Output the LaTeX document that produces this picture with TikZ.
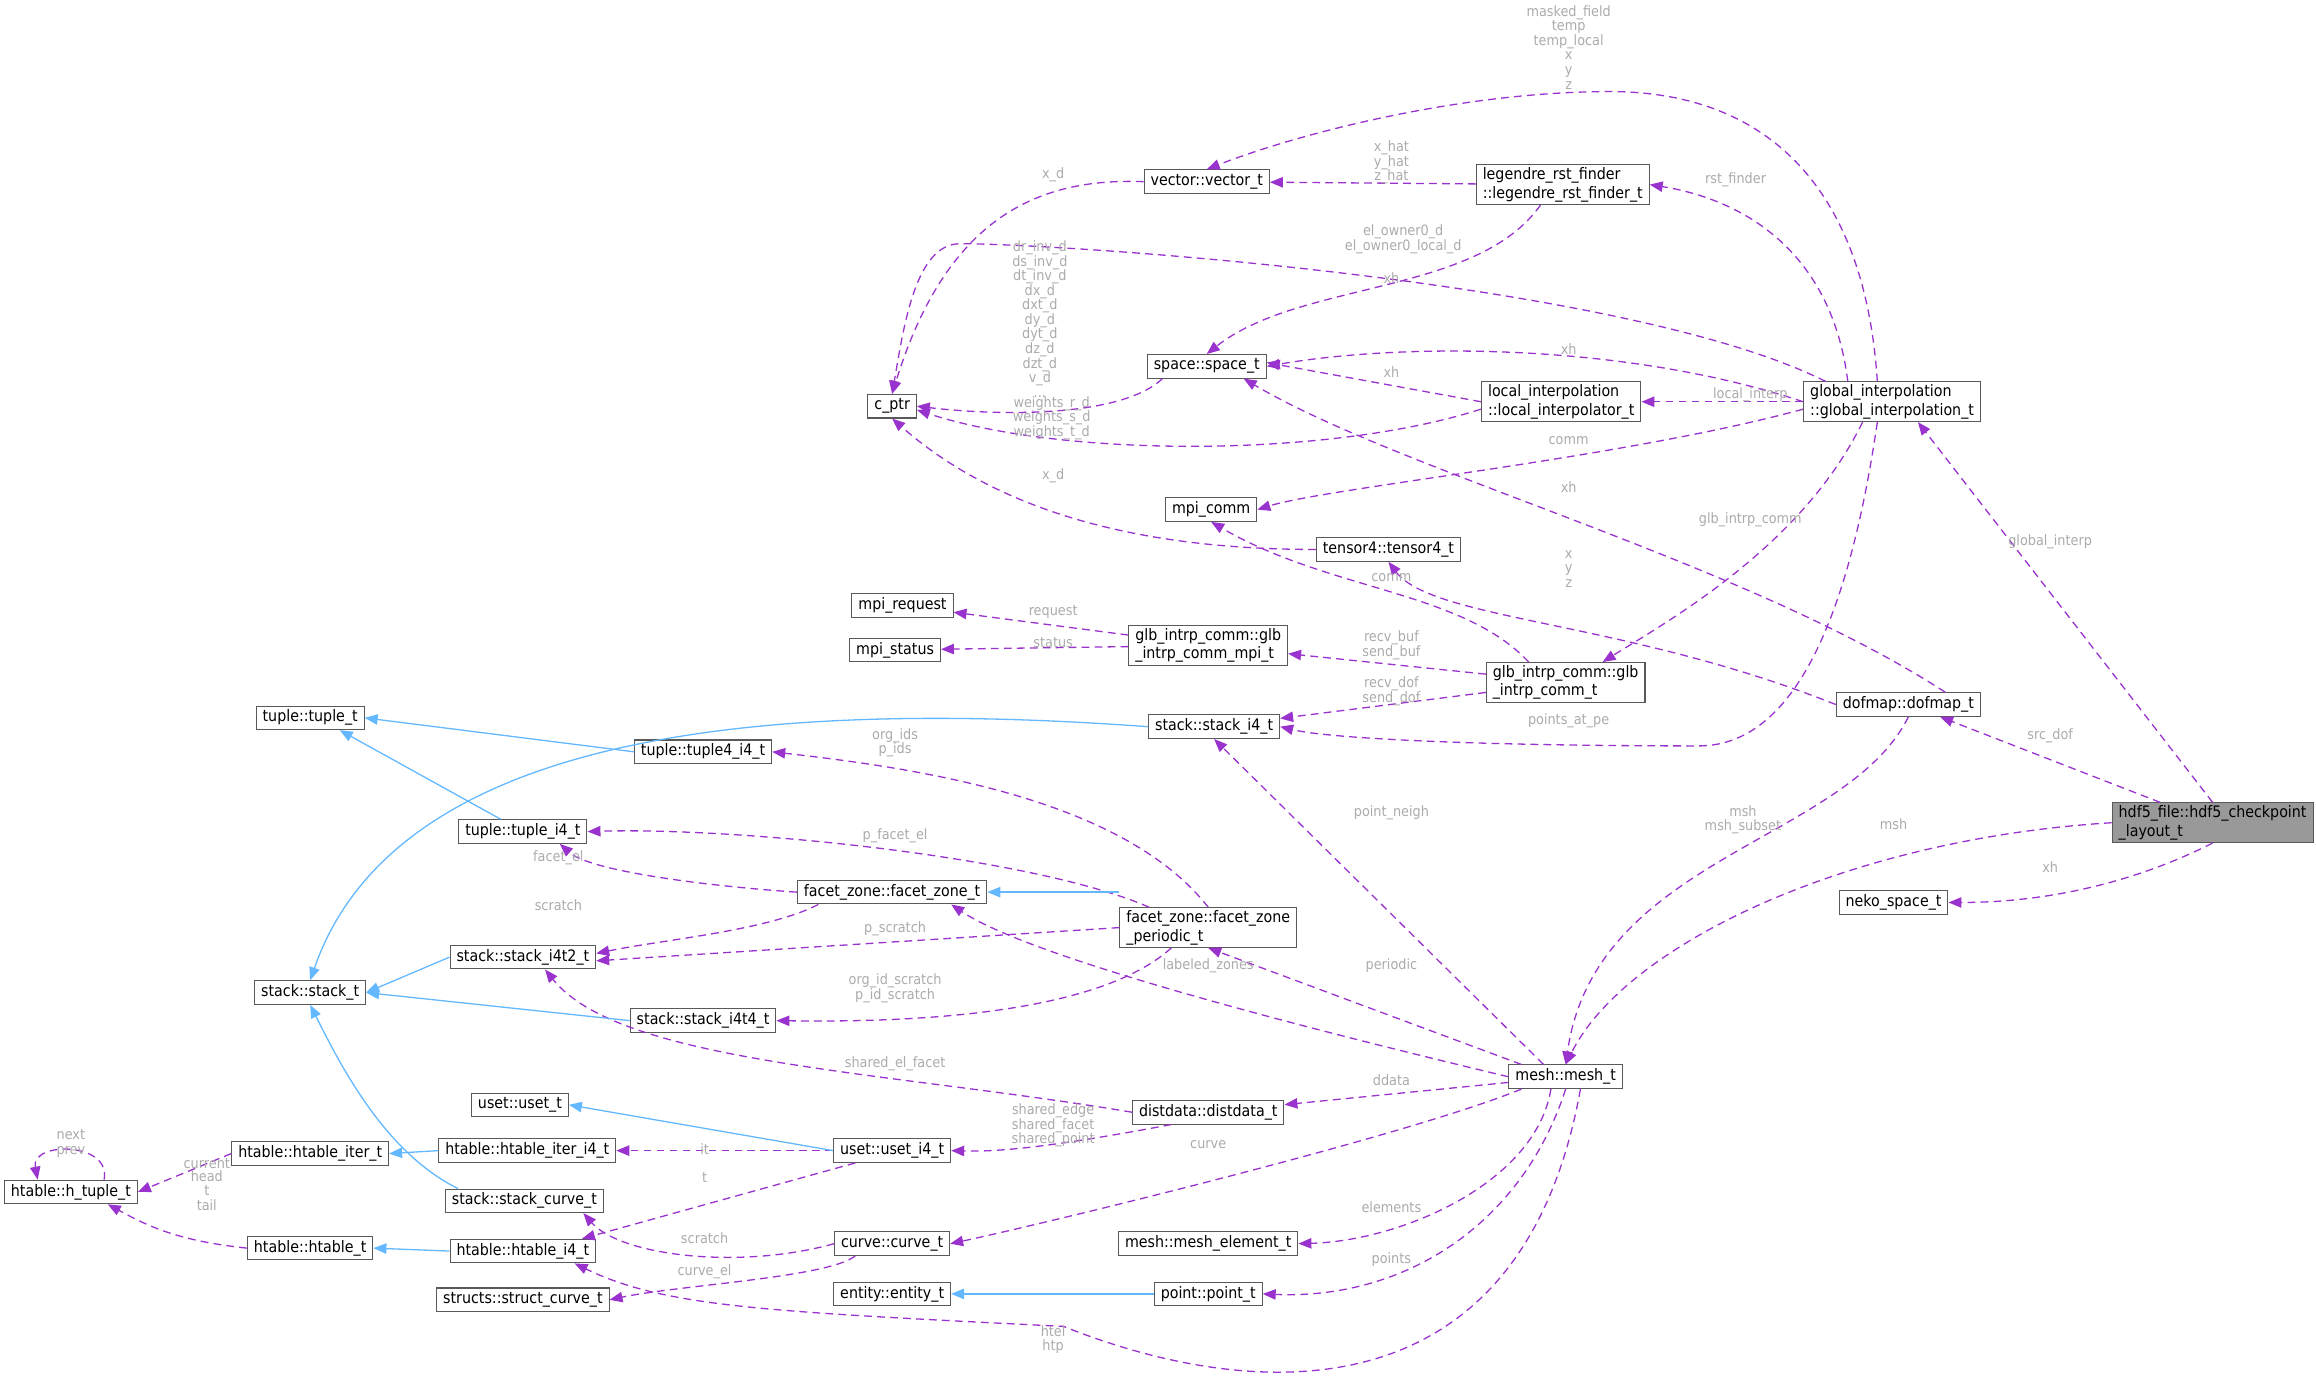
\documentclass[tikz,border=0pt]{standalone}
\usepackage{fontspec}
\setmainfont{DejaVu Sans Condensed}
\usetikzlibrary{arrows.meta}
\definecolor{dep}{HTML}{9A32CD}
\definecolor{inh}{HTML}{63B8FF}
\definecolor{lblc}{HTML}{ABABAB}
\begin{document}
\begin{tikzpicture}[x=0.02cm,y=-0.02cm,
 box/.style={draw=black!65,fill=white,font=\fontsize{6.1}{7.2}\selectfont,inner xsep=2.5pt,inner ysep=1pt,minimum height=0.32cm,align=left},
 dep/.style={draw=dep,dashed,dash pattern=on 3pt off 2pt,line width=0.5pt,-{Triangle[length=5pt,width=4pt]}},
 inh/.style={draw=inh,line width=0.5pt,-{Triangle[length=5pt,width=4pt]}},
 lbl/.style={text=lblc,font=\fontsize{5.5}{5.6}\selectfont,align=center,inner sep=0pt}]
\useasboundingbox (0,0) rectangle (1568,946);
% nodes
\node[box,fill=black!40] (hdf5) at (1498,557) {hdf5\_file::hdf5\_checkpoint\\\_layout\_t};
\node[box] (neko) at (1282,611) {neko\_space\_t};
\node[box] (dofmap) at (1292,477) {dofmap::dofmap\_t};
\node[box] (global) at (1281,272) {global\_interpolation\\::global\_interpolation\_t};
\node[box] (legendre) at (1058,125) {legendre\_rst\_finder\\::legendre\_rst\_finder\_t};
\node[box] (vector) at (817,123) {vector::vector\_t};
\node[box] (space) at (817,248) {space::space\_t};
\node[box] (local) at (1057,272) {local\_interpolation\\::local\_interpolator\_t};
\node[box] (cptr) at (604,275) {c\_ptr};
\node[box] (mpicomm) at (820,345) {mpi\_comm};
\node[box] (tensor) at (940,372) {tensor4::tensor4\_t};
\node[box] (mpireq) at (611,410) {mpi\_request};
\node[box] (mpistat) at (606,440) {mpi\_status};
\node[box] (glbmpi) at (818,437) {glb\_intrp\_comm::glb\\\_intrp\_comm\_mpi\_t};
\node[box] (glb) at (1060,462) {glb\_intrp\_comm::glb\\\_intrp\_comm\_t};
\node[box] (stacki4) at (822,492) {stack::stack\_i4\_t};
\node[box] (tuple) at (210,486) {tuple::tuple\_t};
\node[box] (tuple4) at (476,509) {tuple::tuple4\_i4\_t};
\node[box] (tuplei4) at (354,563) {tuple::tuple\_i4\_t};
\node[box] (fzone) at (604,604) {facet\_zone::facet\_zone\_t};
\node[box] (fper) at (818,628) {facet\_zone::facet\_zone\\\_periodic\_t};
\node[box] (si4t2) at (354,648) {stack::stack\_i4t2\_t};
\node[box] (stack) at (210,672) {stack::stack\_t};
\node[box] (si4t4) at (476,691) {stack::stack\_i4t4\_t};
\node[box] (mesh) at (1060,729) {mesh::mesh\_t};
\node[box] (dist) at (818,753) {distdata::distdata\_t};
\node[box] (uset) at (352,748) {uset::uset\_t};
\node[box] (hiter) at (210,781) {htable::htable\_iter\_t};
\node[box] (hiteri4) at (357,779) {htable::htable\_iter\_i4\_t};
\node[box] (useti4) at (604,779) {uset::uset\_i4\_t};
\node[box] (htuple) at (48,807) {htable::h\_tuple\_t};
\node[box] (scurve) at (355,813) {stack::stack\_curve\_t};
\node[box] (htable) at (210,845) {htable::htable\_t};
\node[box] (htablei4) at (354,847) {htable::htable\_i4\_t};
\node[box] (curve) at (604,842) {curve::curve\_t};
\node[box] (scurvet) at (354,880) {structs::struct\_curve\_t};
\node[box] (melem) at (818,842) {mesh::mesh\_element\_t};
\node[box] (entity) at (604,876) {entity::entity\_t};
\node[box] (point) at (818,876) {point::point\_t};
% coordinates for curve waypoints
\coordinate (w1) at (1090,62);
\coordinate (w2) at (650,165);
\coordinate (w3) at (1150,505);
\coordinate (w4) at (720,898);
% dependency edges
\draw[dep] (hdf5.north) -- ([xshift=0.35cm]global.south);
\draw[dep] (hdf5) -- (dofmap);
\draw[dep] (hdf5.west) .. controls (1250,568) and (1100,640) .. (mesh.north);
\draw[dep] (hdf5.south) .. controls (1440,600) and (1380,611) .. (neko.east);
\draw[dep] ([xshift=-0.2cm]global.north) .. controls (1262,120) and (1190,62) .. (w1) .. controls (990,62) and (880,90) .. (vector.north);
\draw[dep] ([xshift=-0.6cm]global.north) .. controls (1240,170) and (1180,135) .. (legendre.east);
\draw[dep] ([xshift=-0.9cm]global.north) .. controls (1100,190) and (720,165) .. (w2) .. controls (620,165) and (612,220) .. (cptr.north);
\draw[dep] (global.west) .. controls (1100,232) and (950,232) .. (space.east);
\draw[dep] (global) -- (local);
\draw[dep] ([yshift=-0.1cm]global.west) .. controls (1100,310) and (900,330) .. (mpicomm.east);
\draw[dep] ([xshift=-0.4cm]global.south) .. controls (1220,370) and (1130,420) .. ([xshift=0.5cm]glb.north);
\draw[dep] ([xshift=-0.2cm]global.south) .. controls (1250,430) and (1210,505) .. (w3) .. controls (1000,505) and (900,500) .. (stacki4.east);
\draw[dep] (legendre) -- (vector);
\draw[dep] ([xshift=-0.3cm]legendre.south) .. controls (1000,200) and (880,190) .. (space.north);
\draw[dep] (vector.west) .. controls (700,120) and (640,150) .. (cptr.north);
\draw[dep] ([xshift=-0.6cm]space.south) .. controls (760,282) and (680,282) .. (cptr.east);
\draw[dep] ([yshift=-0.1cm]local.west) .. controls (900,310) and (720,310) .. ([yshift=-0.05cm]cptr.east);
\draw[dep] (local.west) -- ([yshift=0.05cm]space.east);
\draw[dep] (tensor.west) .. controls (780,372) and (680,350) .. (cptr.south);
\draw[dep] ([xshift=0.5cm]dofmap.north) .. controls (1180,380) and (950,320) .. ([xshift=0.5cm]space.south);
\draw[dep] (dofmap.west) .. controls (1100,420) and (970,420) .. (tensor.south);
\draw[dep] (dofmap.south) .. controls (1250,570) and (1080,580) .. (mesh.north);
\draw[dep] ([xshift=-0.5cm]glb.north) .. controls (990,400) and (900,400) .. (mpicomm.south);
\draw[dep] (glb) -- (glbmpi);
\draw[dep] (glb) -- (stacki4);
\draw[dep] (glbmpi) -- (mpireq);
\draw[dep] (glbmpi) -- (mpistat);
\draw[dep] (fper.north) .. controls (760,540) and (620,520) .. (tuple4.east);
\draw[dep] ([xshift=-0.8cm]fper.north) .. controls (700,580) and (500,560) .. (tuplei4.east);
\draw[dep] (fper.west) -- ([yshift=-0.05cm]si4t2.east);
\draw[dep] ([xshift=-0.5cm]fper.south) .. controls (740,690) and (600,692) .. (si4t4.east);
\draw[dep] (fzone.west) .. controls (480,600) and (400,590) .. ([xshift=0.5cm]tuplei4.south);
\draw[dep] ([xshift=-1cm]fzone.south) .. controls (520,630) and (450,636) .. ([yshift=0.05cm]si4t2.east);
\draw[dep] ([xshift=-0.3cm]mesh.north) -- (stacki4.south);
\draw[dep] (mesh.west) .. controls (900,700) and (700,650) .. ([xshift=0.8cm]fzone.south);
\draw[dep] ([xshift=-0.6cm]mesh.north) -- (fper.south);
\draw[dep] (mesh) -- (dist);
\draw[dep] ([xshift=-0.6cm]mesh.south) .. controls (950,770) and (700,830) .. (curve.east);
\draw[dep] ([xshift=-0.2cm]mesh.south) .. controls (1040,800) and (950,840) .. (melem.east);
\draw[dep] (mesh.south) .. controls (1030,830) and (950,880) .. (point.east);
\draw[dep] ([xshift=0.2cm]mesh.south) .. controls (1030,960) and (850,950) .. (w4) .. controls (520,888) and (450,885) .. ([xshift=0.7cm]htablei4.south);
\draw[dep] (dist.west) .. controls (600,725) and (420,720) .. ([xshift=0.3cm]si4t2.south);
\draw[dep] ([xshift=-0.5cm]dist.south) .. controls (720,775) and (680,780) .. (useti4.east);
\draw[dep] (useti4) -- (hiteri4);
\draw[dep] ([xshift=-0.5cm]useti4.south) -- ([xshift=0.8cm]htablei4.north);
\draw[dep] (curve.west) .. controls (500,860) and (420,850) .. ([xshift=0.8cm]scurve.south);
\draw[dep] ([xshift=-0.5cm]curve.south) .. controls (560,865) and (460,870) .. (scurvet.east);
\draw[dep] (hiter.west) -- (htuple.east);
\draw[dep] (htable.west) .. controls (120,840) and (100,830) .. ([xshift=0.5cm]htuple.south);
\draw[dep] ([xshift=0.45cm]htuple.north) .. controls +(5,-26) and +(-5,-26) .. ([xshift=-0.45cm]htuple.north);
% inheritance edges
\draw[inh] (stacki4.west) .. controls (450,468) and (260,520) .. (stack.north);
\draw[inh] (tuple4.west) -- (tuple.east);
\draw[inh] ([xshift=-0.3cm]tuplei4.north) -- ([xshift=0.4cm]tuple.south);
\draw[inh] (si4t2.west) -- (stack.east);
\draw[inh] (si4t4.west) -- (stack.east);
\draw[inh] ([xshift=-0.9cm]scurve.north) .. controls (260,780) and (230,720) .. (stack.south);
\draw[inh] (fper.west |- fzone.east) -- (fzone.east);
\draw[inh] (useti4.west) -- (uset.east);
\draw[inh] (hiteri4.west) -- (hiter.east);
\draw[inh] (htablei4.west) -- (htable.east);
\draw[inh] (point.west) -- (entity.east);
% labels
\node[lbl] at (1062,32) {masked\_field\\temp\\temp\_local\\x\\y\\z};
\node[lbl] at (713,118) {x\_d};
\node[lbl] at (942,110) {x\_hat\\y\_hat\\z\_hat};
\node[lbl] at (1175,122) {rst\_finder};
\node[lbl] at (950,162) {el\_owner0\_d\\el\_owner0\_local\_d};
\node[lbl] at (942,188) {xh};
\node[lbl] at (704,216) {dr\_inv\_d\\ds\_inv\_d\\dt\_inv\_d\\dx\_d\\dxt\_d\\dy\_d\\dyt\_d\\dz\_d\\dzt\_d\\v\_d\\...};
\node[lbl] at (1062,236) {xh};
\node[lbl] at (942,252) {xh};
\node[lbl] at (1185,267) {local\_interp};
\node[lbl] at (712,283) {weights\_r\_d\\weights\_s\_d\\weights\_t\_d};
\node[lbl] at (1062,298) {comm};
\node[lbl] at (1062,330) {xh};
\node[lbl] at (713,322) {x\_d};
\node[lbl] at (1185,352) {glb\_intrp\_comm};
\node[lbl] at (1062,385) {x\\y\\z};
\node[lbl] at (942,391) {comm};
\node[lbl] at (1388,367) {global\_interp};
\node[lbl] at (713,414) {request};
\node[lbl] at (713,435) {status};
\node[lbl] at (942,437) {recv\_buf\\send\_buf};
\node[lbl] at (942,468) {recv\_dof\\send\_dof};
\node[lbl] at (1062,488) {points\_at\_pe};
\node[lbl] at (1388,498) {src\_dof};
\node[lbl] at (606,503) {org\_ids\\p\_ids};
\node[lbl] at (942,550) {point\_neigh};
\node[lbl] at (1180,555) {msh\\msh\_subset};
\node[lbl] at (1282,558) {msh};
\node[lbl] at (606,566) {p\_facet\_el};
\node[lbl] at (378,581) {facet\_el};
\node[lbl] at (1388,587) {xh};
\node[lbl] at (378,613) {scratch};
\node[lbl] at (606,629) {p\_scratch};
\node[lbl] at (818,654) {labeled\_zones};
\node[lbl] at (942,654) {periodic};
\node[lbl] at (606,669) {org\_id\_scratch\\p\_id\_scratch};
\node[lbl] at (606,720) {shared\_el\_facet};
\node[lbl] at (942,731) {ddata};
\node[lbl] at (713,762) {shared\_edge\\shared\_facet\\shared\_point};
\node[lbl] at (477,778) {it};
\node[lbl] at (818,775) {curve};
\node[lbl] at (140,788) {current};
\node[lbl] at (48,774) {next\\prev};
\node[lbl] at (140,806) {head\\t\\tail};
\node[lbl] at (477,797) {t};
\node[lbl] at (477,838) {scratch};
\node[lbl] at (942,817) {elements};
\node[lbl] at (477,861) {curve\_el};
\node[lbl] at (942,853) {points};
\node[lbl] at (713,907) {htel\\htp};
\end{tikzpicture}
\end{document}
